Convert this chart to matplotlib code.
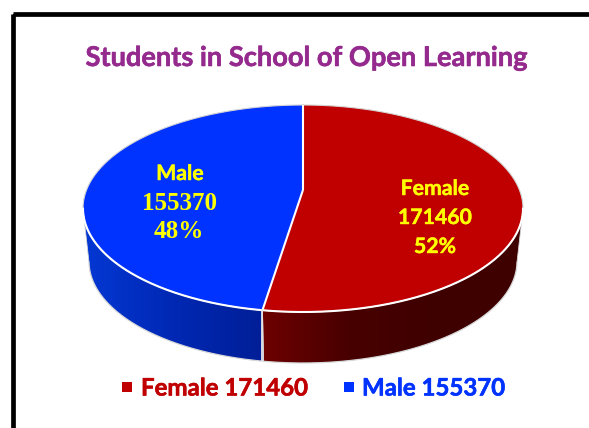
import numpy as np
import matplotlib
matplotlib.use('Agg')
import matplotlib.pyplot as plt
import matplotlib.patheffects as pe
from matplotlib.colors import LinearSegmentedColormap
from matplotlib.patches import Polygon, Rectangle

# pie values
categories = ['Female', 'Male']
values = [171460, 155370]
percent_labels = ['52%', '48%']
title = 'Students in School of Open Learning'

RED = '#c00000'
BLUE = '#0033ff'
CX, CY, RX, RY = 303, 208.5, 220, 103.5      # top face
BOT_CY, BOT_RX, BOT_RY = 261.5, 214, 101.5   # bottom rim
TILT = 0.18  # moves the hub up, like the perspective of the original


def rim(theta):
    # theta clockwise from 12 o'clock, circle pushed through a small perspective
    u, v = np.sin(theta), np.cos(theta)
    w = 1 + TILT * v
    return u * np.sqrt(1 - TILT ** 2) / w, (v + TILT) / w


def top_xy(u, v):
    return CX + RX * u, CY - RY * v


def bottom_xy(u, v):
    return CX + BOT_RX * u, BOT_CY - BOT_RY * v


def bold_text(x, y, s, size, color, family='Lato', ha='center', stroke=0.3):
    # Lato bold is a bit lighter than the original font, so thicken it
    t = ax.text(x, y, s, color=color, fontsize=size, fontweight='bold',
                family=family, ha=ha, va='center')
    if stroke:
        t.set_path_effects([pe.withStroke(linewidth=stroke, foreground=color)])
    return t


fig = plt.figure(figsize=(5.89, 4.28), dpi=100)
ax = fig.add_axes([0, 0, 1, 1])
ax.axis('off')

# frame runs off the right and bottom of the picture
ax.add_patch(Rectangle((13.2, 13.5), 640, 500, fc='none', ec='black', lw=3.4,
                       joinstyle='round'))

fractions = np.array(values) / sum(values)
ends = np.cumsum(fractions) * 2 * np.pi
starts = np.concatenate([[0], ends[:-1]])

wall_cmaps = {
    'Female': LinearSegmentedColormap.from_list('f', ['#6e0000', '#480000', '#3f0000', '#3f0000']),
    'Male': LinearSegmentedColormap.from_list('m', ['#0438d4', '#0028b4', '#001e96']),
}

for i in [1, 0]:
    t = np.linspace(starts[i], ends[i], 400)
    u, v = rim(t)
    keep = v <= 0
    x1, y1 = top_xy(u[keep], v[keep])
    x2, y2 = bottom_xy(u[keep], v[keep])
    pts = np.vstack([np.column_stack([x1, y1]), np.column_stack([x2, y2])[::-1]])
    poly = Polygon(pts, closed=True, fc='none', ec='none')
    ax.add_patch(poly)
    lo, hi = pts[:, 0].min(), pts[:, 0].max()
    grad = np.linspace(0, 1, 256)[None, :]
    im = ax.imshow(grad, extent=[lo, hi, 370, 200], cmap=wall_cmaps[categories[i]], aspect='auto')
    im.set_clip_path(poly)
    ax.plot(x2, y2, color='#d8d8d8', lw=0.9, solid_capstyle='round')
    ax.plot([x1[-1], x2[-1]], [y1[-1], y2[-1]], color='#d8d8d8', lw=0.6)
    ax.plot([x1[0], x2[0]], [y1[0], y2[0]], color='#d8d8d8', lw=0.6)

# top face
hub = top_xy(0, TILT)
for i, color in enumerate([RED, BLUE]):
    t = np.linspace(starts[i], ends[i], 400)
    x, y = top_xy(*rim(t))
    pts = np.vstack([[hub], np.column_stack([x, y])])
    ax.add_patch(Polygon(pts, closed=True, fc=color, ec='none'))

t = np.linspace(0, 2 * np.pi, 800)
u, v = rim(t)
x, y = top_xy(u, v)
ax.plot(x, y, color='#d4d4d4', lw=0.8)
front = v <= 0
ax.plot(x[front], y[front], color='white', lw=1.5)

# slice dividers
for a in starts:
    ex, ey = top_xy(*rim(a))
    ax.plot([hub[0], ex], [hub[1], ey], color='white', lw=1.5, solid_capstyle='butt')
eu, ev = rim(ends[0])
x1, y1 = top_xy(eu, ev)
x2, y2 = bottom_xy(eu, ev)
ax.plot([x1, x1], [y1, y2], color='#e8e8e8', lw=1.3)

bold_text(306, 58, title, 19.6, '#952a8e', stroke=0.4)

# data labels
YEL = '#ffff00'
bold_text(435, 189, categories[0], 15.3, YEL)
bold_text(435, 218, str(values[0]), 15.3, YEL)
bold_text(435, 247, percent_labels[0], 15.3, YEL)
bold_text(180, 174, categories[1], 15.3, YEL)
bold_text(180, 203, str(values[1]), 18, YEL, family='Liberation Serif', stroke=0)
bold_text(179, 231, percent_labels[1], 18, YEL, family='Liberation Serif', stroke=0)

# legend
legend_colors = [RED, BLUE]
legend_box_x = [122, 344]
legend_text_x = [141, 362]
for i, name in enumerate(categories):
    ax.add_patch(Rectangle((legend_box_x[i], 382), 10, 10, fc=legend_colors[i], ec='none'))
    bold_text(legend_text_x[i], 388, f'{name} {values[i]}', 17.3, legend_colors[i], ha='left', stroke=0.4)

ax.set_xlim(0, 589)
ax.set_ylim(428, 0)
fig.savefig('out.png', dpi=100)
